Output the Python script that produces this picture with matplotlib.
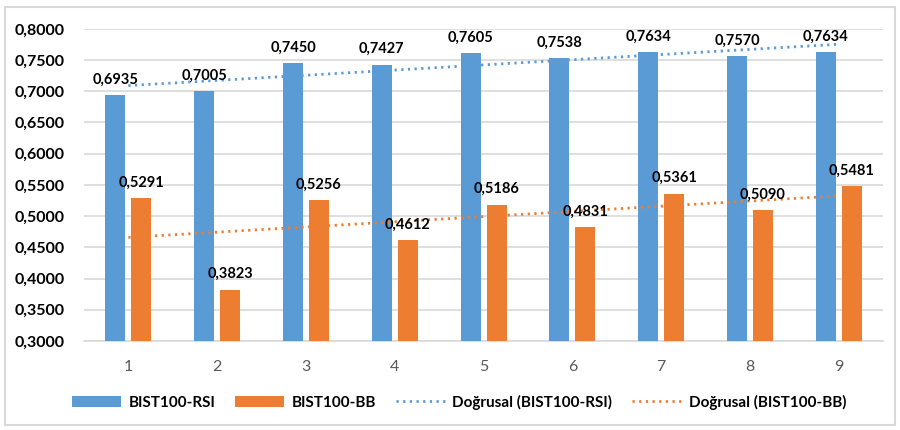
import numpy as np
import matplotlib
matplotlib.use('Agg')
import matplotlib.pyplot as plt
from matplotlib.patches import Rectangle
from matplotlib.ticker import FuncFormatter

plt.rcParams['font.family'] = ['Lato', 'DejaVu Sans']

categories = [1, 2, 3, 4, 5, 6, 7, 8, 9]
rsi = [0.6935, 0.7005, 0.7450, 0.7427, 0.7605, 0.7538, 0.7634, 0.7570, 0.7634]
bb = [0.5291, 0.3823, 0.5256, 0.4612, 0.5186, 0.4831, 0.5361, 0.5090, 0.5481]
names = ['BIST100-RSI', 'BIST100-BB']
trend_names = ['Doğrusal (BIST100-RSI)', 'Doğrusal (BIST100-BB)']

blue = '#5B9BD5'
orange = '#ED7D31'

fig = plt.figure(figsize=(9, 4.3), dpi=100)
ax = fig.add_axes([0.0933, 0.207, 0.888, 0.726])

x = np.array(categories)
w = 0.225
off = 0.146
handles = []
handles.append(ax.bar(x - off, rsi, w, color=blue, label=names[0], zorder=3))
handles.append(ax.bar(x + off, bb, w, color=orange, label=names[1], zorder=3))

# trend lines (linear fit)
for vals, c, lab in [(rsi, blue, trend_names[0]), (bb, orange, trend_names[1])]:
    k, m = np.polyfit(x, vals, 1)
    ln, = ax.plot(x, k * x + m, color=c, lw=2, ls=(0, (0.8, 1.6)), label=lab, zorder=4)
    handles.append(ln)

for xs, vals in [(x - off, rsi), (x + off, bb)]:
    for xi, v in zip(xs, vals):
        ax.annotate(('%.4f' % v).replace('.', ','), (xi, v), xytext=(0, 6),
                    textcoords='offset points', ha='center', va='bottom',
                    fontsize=10.5, fontweight='bold', color='#000000', zorder=5)

ax.set_ylim(0.3, 0.8)
ax.set_xlim(0.5, 9.5)
ax.set_yticks(np.arange(0.3, 0.8001, 0.05))
ax.yaxis.set_major_formatter(FuncFormatter(lambda v, p: ('%.4f' % v).replace('.', ',')))
ax.set_xticks(x)
ax.grid(axis='y', color='#D9D9D9', lw=1.2, zorder=0)
for s in ['top', 'right', 'left']:
    ax.spines[s].set_visible(False)
ax.spines['bottom'].set_color('#D9D9D9')
ax.spines['bottom'].set_linewidth(1.2)
ax.tick_params(length=0)
ax.tick_params(axis='y', labelsize=11.5, pad=14)
ax.tick_params(axis='x', labelsize=11.5, pad=14, labelcolor='#595959')
for t in ax.get_yticklabels():
    t.set_fontweight('bold')

fig.legend(handles=handles, loc='center', bbox_to_anchor=(0.51, 0.065), ncol=4,
           frameon=False, prop={'size': 11, 'weight': 'bold'}, handlelength=3.2,
           columnspacing=1.3, handletextpad=0.5)

fig.patches.append(Rectangle((0.006, 0.012), 0.988, 0.972, transform=fig.transFigure,
                             fill=False, edgecolor='#D9D9D9', lw=1.5))

fig.savefig('out.png', dpi=100)
